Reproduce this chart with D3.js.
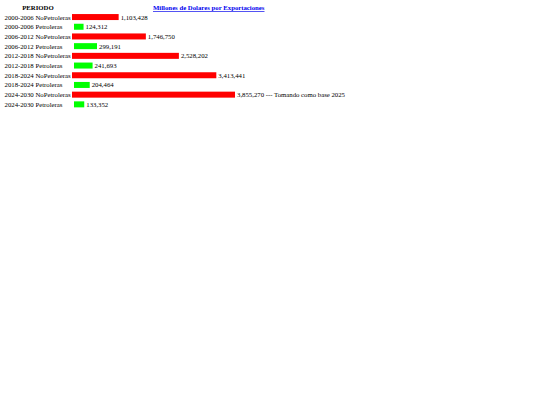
<!DOCTYPE html>
<html>
<head>
<meta charset="utf-8">
<script src="https://cdn.jsdelivr.net/npm/d3@7"></script>
<style>
  body { margin: 0; background: #fff; }
  svg { display: block; font-family: "Liberation Serif", "Times New Roman", serif; }
</style>
</head>
<body>
<svg id="chart" width="540" height="405"></svg>
<script>
(function(){

	// rows of the table, top to bottom
	const labels = [
		"2000-2006 NoPetroleras", "2000-2006 Petroleras",
		"2006-2012 NoPetroleras", "2006-2012 Petroleras",
		"2012-2018 NoPetroleras", "2012-2018 Petroleras",
		"2018-2024 NoPetroleras", "2018-2024 Petroleras",
		"2024-2030 NoPetroleras", "2024-2030 Petroleras"
	];
	const kinds = ["no", "pet", "no", "pet", "no", "pet", "no", "pet", "no", "pet"];
	const values = [1103428, 124312, 1746750, 299191, 2528202, 241693, 3413441, 204464, 3855270, 133352];
	const notes = ["", "", "", "", "", "", "", "", " --- Tomando como base 2025", ""];

	const headLeft = "PERIODO";
	const headRight = "Millones de Dolares por Exportaciones";

	const svg = d3.select("#chart");
	const fontSize = 6.75;

	// each row is ~9.7px tall
	const y = d3.scaleBand().domain(d3.range(labels.length)).range([12.2, 109.2]);

	// the two kinds of bar are drawn at different scales in the original
	const xNo = d3.scaleLinear().domain([0, d3.max(values.filter((v, i) => kinds[i] == "no"))]).range([0, 163]);
	const xPet = d3.scaleLinear().domain([0, d3.max(values.filter((v, i) => kinds[i] == "pet"))]).range([0, 23]);

	const barStart = { no: 72, pet: 74 };
	const colors = { no: "#ff0000", pet: "#00ff00" };

	function width(d, i) {
		return kinds[i] == "no" ? xNo(d) : xPet(d);
	}

	// headers
	svg.append("text")
		.attr("x", 38).attr("y", 10)
		.attr("text-anchor", "middle")
		.attr("font-weight", "bold")
		.attr("font-size", fontSize)
		.text(headLeft);

	svg.append("text")
		.attr("x", 153).attr("y", 10)
		.attr("font-weight", "bold")
		.attr("font-size", fontSize)
		.attr("fill", "#0000ee")
		.attr("text-decoration", "underline")
		.text(headRight);

	const rows = svg.selectAll("g.row").data(values).enter().append("g")
		.attr("class", "row")
		.attr("transform", (d, i) => "translate(0," + (y(i) + y.bandwidth() / 2) + ")");

	rows.append("text")
		.attr("x", 4.5).attr("y", 2.5)
		.attr("font-size", fontSize)
		.text((d, i) => labels[i]);

	rows.append("rect")
		.attr("x", (d, i) => barStart[kinds[i]])
		.attr("y", -3)
		.attr("height", 6)
		.attr("width", width)
		.attr("fill", (d, i) => colors[kinds[i]]);

	rows.append("text")
		.attr("x", (d, i) => barStart[kinds[i]] + width(d, i) + 2)
		.attr("y", 2.5)
		.attr("font-size", fontSize)
		.text((d, i) => d3.format(",")(d) + notes[i]);

}());
</script>
</body>
</html>
